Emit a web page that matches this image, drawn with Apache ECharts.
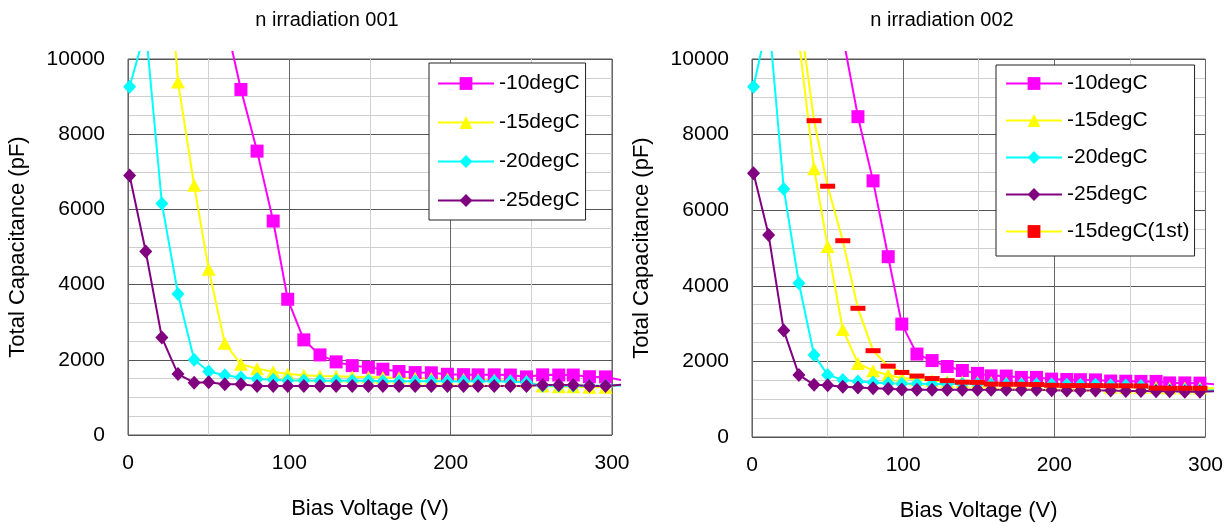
<!DOCTYPE html>
<html><head><meta charset="utf-8">
<script src="https://cdn.jsdelivr.net/npm/echarts@6/dist/echarts.min.js"></script>
<style>html,body{margin:0;padding:0;background:#fff}#c{width:1226px;height:527px}</style>
</head><body><div id="c"></div>
<script>
// ---- data ----
const voltages = [1, 11, 21, 31, 41, 50, 60, 70, 80, 90, 99, 109, 119, 129, 139, 149, 158, 168, 178, 188, 198, 208, 217, 227, 237, 247, 257, 267, 276, 286, 296, 306];
const xTickValues = [0, 100, 200, 300];
const yTickValues = [0, 2000, 4000, 6000, 8000, 10000];
const titles = ['n irradiation 001', 'n irradiation 002'];
const names001 = ['-10degC', '-15degC', '-20degC', '-25degC'];
const names002 = ['-10degC', '-15degC', '-20degC', '-25degC', '-15degC(1st)'];

// chart 001
const m10_001 = [null,null,null,null,null,null,11100,9190,7550,5690,3610,2530,2130,1945,1845,1800,1750,1690,1660,1655,1615,1605,1600,1600,1595,1545,1600,1595,1595,1550,1545,1460];
const m15_001 = [null,null,15000,9390,6640,4410,2440,1880,1765,1680,1620,1590,1570,1560,1550,1540,1530,1520,1510,1500,1490,1480,1470,1460,1450,1430,1300,1280,1280,1270,1270,1340];
const m20_001 = [9260,10800,6160,3750,2000,1690,1590,1530,1490,1470,1450,1450,1440,1440,1440,1440,1430,1430,1430,1430,1430,1430,1430,1430,1420,1400,1310,1310,1310,1310,1310,1320];
const m25_001 = [6900,4880,2590,1620,1390,1400,1350,1350,1300,1300,1300,1300,1300,1300,1300,1300,1300,1300,1300,1300,1300,1300,1300,1300,1300,1300,1330,1330,1330,1300,1300,1340];

// chart 002
const m10_002 = [null,null,null,null,null,null,10600,8490,6810,4825,3060,2275,2105,1950,1845,1770,1705,1700,1665,1665,1620,1610,1605,1600,1570,1565,1560,1560,1520,1520,1515,1480];
const m15_002 = [null,null,null,10500,7130,5090,2920,2030,1840,1730,1650,1610,1580,1560,1550,1540,1530,1520,1510,1500,1490,1480,1470,1460,1410,1400,1400,1400,1390,1390,1390,1360];
const m20_002 = [9275,11100,6600,4130,2250,1730,1600,1560,1530,1510,1500,1500,1490,1490,1490,1490,1480,1480,1480,1480,1480,1470,1470,1470,1460,1450,1440,1330,1330,1330,1330,1330];
const m25_002 = [7010,5390,2890,1730,1470,1460,1420,1400,1380,1370,1350,1340,1340,1340,1340,1340,1340,1340,1340,1340,1330,1320,1320,1320,1320,1310,1310,1300,1300,1290,1290,1300];
const r15_002 = [null,null,null,11300,8385,6670,5243,3474,2364,1960,1795,1700,1635,1580,1540,1535,1490,1485,1485,1480,1460,1450,1450,1450,1445,1445,1440,1385,1380,1380,1380,1380];

// ---- styling / layout ----
const FONT = 'Liberation Sans, Arial, Helvetica, sans-serif';
const styles = {
  '-10degC': {color: '#FF00FF', line: '#FF00FF', symbol: 'rect', size: 13},
  '-15degC': {color: '#FFFF00', line: '#FFFF00', symbol: 'triangle', size: [14, 13]},
  '-20degC': {color: '#00FFFF', line: '#00FFFF', symbol: 'diamond', size: [13, 14]},
  '-25degC': {color: '#800080', line: '#800080', symbol: 'diamond', size: [13, 14]},
  '-15degC(1st)': {color: '#FF0000', line: '#FFFF00', symbol: 'rect', size: [15, 5]}
};
// visible plot boxes and the slightly larger clip boxes (lines may spill a few px out, as in the original)
const boxes = [
  {left: 128, top: 59, width: 484, height: 376, clipTop: 7, clipRight: 8},
  {left: 752, top: 59, width: 454, height: 382, clipTop: 7, clipRight: 7}
];

function pairs(vals) {
  const out = [];
  vals.forEach((v, i) => { if (v !== null) out.push([voltages[i], v]); });
  return out;
}

const xMin = xTickValues[0], xMax = xTickValues[xTickValues.length - 1], xInt = xTickValues[1] - xTickValues[0];
const yMin = yTickValues[0], yMax = yTickValues[yTickValues.length - 1], yInt = yTickValues[1] - yTickValues[0];

const grids = [], xAxes = [], yAxes = [], series = [];
boxes.forEach((b, k) => {
  grids.push({left: b.left, top: b.top, width: b.width, height: b.height, show: true,
    borderColor: '#555', borderWidth: 1, backgroundColor: 'transparent'});
  grids.push({left: b.left, top: b.top - b.clipTop, width: b.width + b.clipRight, height: b.height + b.clipTop});
  xAxes.push({type: 'value', gridIndex: 2 * k, min: xMin, max: xMax, interval: xInt,
    axisLine: {show: false}, axisTick: {show: false},
    axisLabel: {fontSize: 21, color: '#000', fontFamily: FONT, margin: 18, formatter: v => String(v)},
    splitLine: {show: true, lineStyle: {color: '#666', width: 1}},
    minorTick: {show: false, splitNumber: 2},
    minorSplitLine: {show: true, lineStyle: {color: '#d0d0d0', width: 1}},
    name: 'Bias Voltage (V)', nameLocation: 'middle', nameGap: 63,
    nameTextStyle: {fontSize: 22, color: '#000', fontFamily: FONT}});
  xAxes.push({type: 'value', gridIndex: 2 * k + 1, min: xMin,
    max: xMax * (b.width + b.clipRight) / b.width, show: false, splitLine: {show: false}});
  yAxes.push({type: 'value', gridIndex: 2 * k, min: yMin, max: yMax, interval: yInt,
    axisLine: {show: false}, axisTick: {show: false},
    axisLabel: {fontSize: 21, color: '#000', fontFamily: FONT, margin: 23, formatter: v => String(v)},
    splitLine: {show: true, lineStyle: {color: '#555', width: 1}},
    minorTick: {show: false, splitNumber: 4},
    minorSplitLine: {show: true, lineStyle: {color: '#cfcfcf', width: 1}},
    name: 'Total Capacitance (pF)', nameLocation: 'middle', nameGap: 99,
    nameTextStyle: {fontSize: 22, color: '#000', fontFamily: FONT}});
  yAxes.push({type: 'value', gridIndex: 2 * k + 1, min: yMin,
    max: yMax * (b.height + b.clipTop) / b.height, show: false, splitLine: {show: false}});
});

function addSeries(name, vals, chartIdx) {
  const s = styles[name];
  series.push({
    name: name, type: 'line', xAxisIndex: 2 * chartIdx + 1, yAxisIndex: 2 * chartIdx + 1,
    data: pairs(vals), symbol: s.symbol, symbolSize: s.size, showAllSymbol: true,
    clip: true, animation: false,
    lineStyle: {color: s.line, width: 2},
    itemStyle: {color: s.color, borderWidth: 0}
  });
}
addSeries('-10degC', m10_001, 0);
addSeries('-15degC', m15_001, 0);
addSeries('-20degC', m20_001, 0);
addSeries('-25degC', m25_001, 0);
addSeries('-10degC', m10_002, 1);
addSeries('-15degC', m15_002, 1);
addSeries('-20degC', m20_002, 1);
addSeries('-25degC', m25_002, 1);
addSeries('-15degC(1st)', r15_002, 1);

const legendCommon = {
  orient: 'vertical', itemWidth: 56, itemHeight: 16,
  backgroundColor: '#fff', borderColor: '#222', borderWidth: 1,
  textStyle: {fontSize: 21, color: '#000', fontFamily: FONT},
  selectedMode: false
};

const option = {
  animation: false,
  backgroundColor: '#fff',
  title: [
    {text: titles[0], left: 322, top: 5, textAlign: 'center',
     textStyle: {fontSize: 20, fontWeight: 'normal', color: '#000', fontFamily: FONT}},
    {text: titles[1], left: 937, top: 5, textAlign: 'center',
     textStyle: {fontSize: 20, fontWeight: 'normal', color: '#000', fontFamily: FONT}}
  ],
  legend: [
    Object.assign({}, legendCommon, {data: names001, left: 429, top: 63, itemGap: 18, padding: [10, 6, 9, 8]}),
    Object.assign({}, legendCommon, {data: names002, left: 996, top: 65, itemGap: 16, padding: [8, 5, 14, 9]})
  ],
  grid: grids, xAxis: xAxes, yAxis: yAxes, series: series
};
const chart = echarts.init(document.getElementById('c'), null, {renderer: 'canvas'});
chart.setOption(option);
</script></body></html>
